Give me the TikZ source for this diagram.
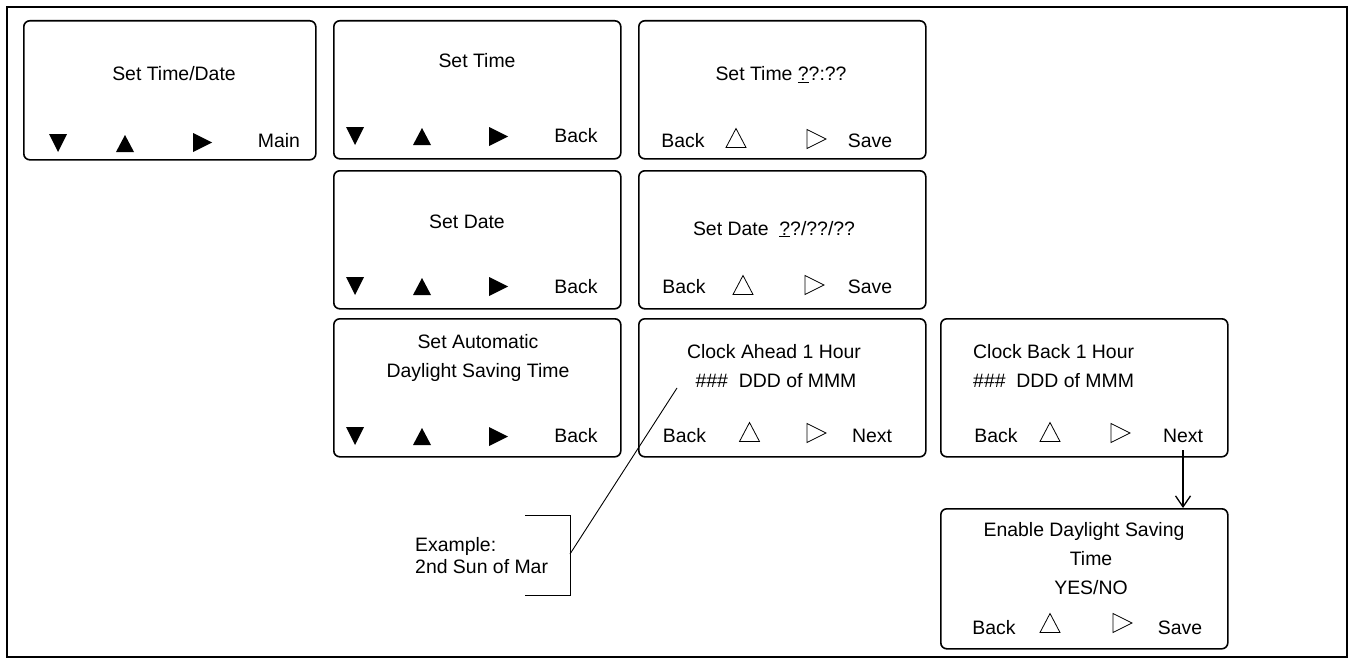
\documentclass[tikz,border=0pt]{standalone}
\usepackage{fontspec}
\setmainfont{Liberation Sans}
\usetikzlibrary{arrows.meta}
\begin{document}
\begin{tikzpicture}[x=1bp,y=-1bp,
  scr/.style={draw,line width=1.6bp,rounded corners=6bp,inner sep=0,anchor=north west,minimum width=287bp,minimum height=138bp},
  lbl/.style={font=\fontsize{19.5}{22}\selectfont,inner sep=0,anchor=base},
  lbll/.style={lbl,anchor=base west},
  thin/.style={line width=0.9bp},
  dn/.pic={\fill (-9,-9)--(9,-9)--(0,9)--cycle;},
  upf/.pic={\fill (-9,9)--(9,9)--(0,-8)--cycle;},
  rtf/.pic={\fill (-9,-9)--(-9,10)--(10,0.5)--cycle;},
  upo/.pic={\draw[line width=0.8bp,line join=miter] (-10,9.5)--(10,9.5)--(0,-9.5)--cycle;},
  rto/.pic={\draw[line width=0.8bp,line join=miter] (-9,-9.5)--(-9,9.5)--(10,0)--cycle;}
]
\useasboundingbox (0,0) rectangle (1353,663);
\draw[line width=1.6bp] (7,7) rectangle (1347,657);

% boxes
\node[scr,minimum width=292bp,minimum height=139bp] (a) at (23,20) {};
\node[scr] (b) at (333,20) {};
\node[scr] (c) at (638,20) {};
\node[scr] (d) at (333,170) {};
\node[scr] (e) at (638,170) {};
\node[scr] (f) at (333,318) {};
\node[scr] (g) at (638,318) {};
\node[scr] (h) at (940,318) {};
\node[scr,minimum height=140bp] (k) at (940,508) {};

% box a
\node[lbl] (ta) at (174,81) {Set Time/Date};
\pic at (58,143) {dn}; \pic at (125,143) {upf}; \pic at (202,142) {rtf};
\node[lbl] (ma) at (279,147) {Main};

% box b
\node[lbl] (tb) at (477,68) {Set Time};
\pic at (355,136) {dn}; \pic at (422,136) {upf}; \pic at (498,136) {rtf};
\node[lbl] (mb) at (576,142) {Back};

% box c
\node[lbl] (tc) at (781,81) {Set Time \underline{?}?:??};
\pic at (736,138) {upo}; \pic at (816,139) {rto};
\node[lbl] (bc) at (683,147) {Back};
\node[lbl] (sc) at (870,147) {Save};

% box d
\node[lbl] (td) at (467,228) {Set Date};
\pic at (355,286) {dn}; \pic at (422,286) {upf}; \pic at (498,286) {rtf};
\node[lbl] (md) at (576,293) {Back};

% box e
\node[lbl] (te) at (774,235) {Set Date\ \ \underline{?}?/??/??};
\pic at (743,285) {upo}; \pic at (814,285) {rto};
\node[lbl] (be) at (684,293) {Back};
\node[lbl] (se) at (870,293) {Save};

% box f
\node[lbl] (tf1) at (478,348) {Set Automatic};
\node[lbl] (tf2) at (478,377) {Daylight Saving Time};
\pic at (355,436) {dn}; \pic at (422,436) {upf}; \pic at (498,436) {rtf};
\node[lbl] (mf) at (576,442) {Back};

% box g
\node[lbl] (tg1) at (774,358) {Clock Ahead 1 Hour};
\node[lbl] (tg2) at (776,387) {\#\#\#\ \ DDD of MMM};
\pic at (749.5,432) {upo}; \pic at (816,433) {rto};
\node[lbl] (bg) at (684.5,442) {Back};
\node[lbl] (ng) at (872,442) {Next};

% box h
\node[lbll] (th1) at (973,358) {Clock Back 1 Hour};
\node[lbll] (th2) at (973,387) {\#\#\#\ \ DDD of MMM};
\pic at (1050,432) {upo}; \pic at (1120,433) {rto};
\node[lbl] (bh) at (996,442) {Back};
\node[lbl] (nh) at (1183,442) {Next};

% box k
\node[lbl] (tk1) at (1084,536) {Enable Daylight Saving};
\node[lbl] (tk2) at (1091,565) {Time};
\node[lbl] (tk3) at (1091,594) {YES/NO};
\pic at (1050,623) {upo}; \pic at (1122,623) {rto};
\node[lbl] (bk) at (994,634) {Back};
\node[lbl] (sk) at (1180,634) {Save};

% arrow Next -> Enable
\coordinate (ar0) at (1183,450);
\draw[line width=1.3bp,-{Straight Barb[length=11bp,width=15bp,line width=1.3bp]}] (ar0) -- (k.north -| ar0);

% example callout
\node[lbll] (ex1) at (415,551) {Example:};
\node[lbll] (ex2) at (415,573) {2nd Sun of Mar};
\coordinate (br1) at (525,515);
\coordinate (br2) at (570,515);
\coordinate (br3) at (570,595);
\coordinate (br4) at (525,595);
\coordinate (brm) at (570,554);
\coordinate (hash) at (677,388);
\draw[thin] (br1) -- (br2) -- (br3) -- (br4);
\draw[thin] (brm) -- (hash);
\end{tikzpicture}
\end{document}
